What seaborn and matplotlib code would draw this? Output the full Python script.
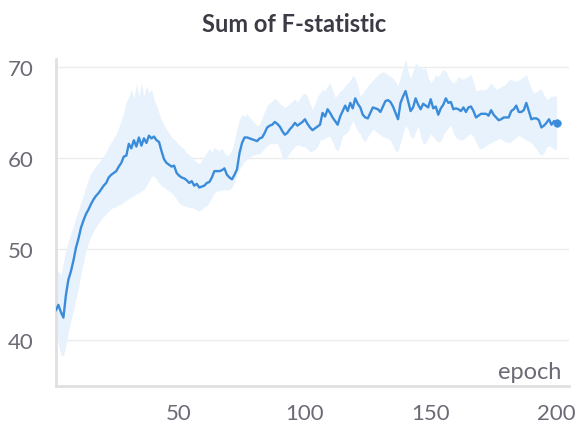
import numpy as np
import pandas as pd
import matplotlib
matplotlib.use("Agg")
import matplotlib.pyplot as plt
import seaborn as sns

# values
epoch = list(range(1, 201))

mean_f = [
    43.3, 43.9, 43.1, 42.5, 45.0, 46.7, 47.6, 48.8, 50.2, 51.2,
    52.4, 53.2, 53.9, 54.4, 55.0, 55.5, 55.9, 56.2, 56.6, 57.0,
    57.3, 57.9, 58.2, 58.4, 58.6, 59.1, 59.5, 60.2, 60.3, 61.6,
    61.1, 62.0, 61.3, 62.3, 61.4, 62.2, 61.7, 62.5, 62.2, 62.4,
    62.0, 61.8, 60.8, 59.9, 59.5, 59.3, 59.1, 59.2, 58.4, 58.1,
    57.9, 57.8, 57.6, 57.3, 57.5, 57.0, 57.2, 56.8, 56.9, 57.0,
    57.3, 57.4, 57.9, 58.6, 58.6, 58.6, 58.7, 58.9, 58.2, 57.9,
    57.7, 58.2, 58.8, 60.6, 61.7, 62.3, 62.3, 62.2, 62.1, 62.0,
    61.9, 62.2, 62.3, 62.8, 63.4, 63.6, 63.7, 64.0, 63.8, 63.5,
    63.0, 62.6, 62.8, 63.2, 63.5, 63.9, 63.6, 63.8, 64.0, 64.3,
    63.8, 63.4, 63.1, 63.3, 63.5, 63.7, 65.0, 64.6, 65.4, 65.0,
    64.5, 64.1, 63.7, 64.6, 65.2, 65.8, 65.2, 66.1, 65.5, 66.6,
    66.0, 65.6, 64.8, 64.5, 64.4, 65.0, 65.6, 65.5, 65.4, 65.1,
    65.7, 66.3, 66.4, 66.2, 65.7, 65.0, 64.3, 66.1, 66.8, 67.4,
    66.3, 65.2, 65.6, 66.6, 65.9, 65.4, 66.0, 65.8, 65.6, 66.5,
    65.5, 65.7, 64.8, 65.5, 65.9, 66.6, 66.1, 66.2, 65.4, 65.5,
    65.4, 65.2, 65.6, 65.1, 65.6, 65.7, 65.2, 64.5, 64.7, 64.9,
    64.9, 64.9, 64.7, 65.3, 64.8, 64.5, 64.2, 64.3, 64.5, 64.5,
    64.5, 65.2, 65.4, 65.8, 65.1, 65.1, 65.3, 66.1, 65.2, 64.3,
    64.4, 64.4, 64.2, 63.4, 63.6, 63.9, 64.3, 63.7, 64.1, 63.9,
]

upper_f = [
    47.4, 47.6, 47.2, 48.6, 50.0, 50.9, 51.8, 52.6, 53.5, 54.3,
    55.2, 56.0, 56.9, 57.7, 58.4, 58.8, 59.2, 59.5, 59.9, 60.3,
    60.7, 61.3, 61.8, 62.3, 62.7, 63.4, 64.2, 65.0, 66.2, 66.8,
    67.6, 66.6, 68.2, 66.8, 68.3, 66.9, 68.0, 67.2, 67.6, 66.5,
    65.8, 65.0, 64.2, 63.6, 63.2, 62.8, 62.3, 62.1, 61.8, 61.5,
    61.2, 61.0, 60.6, 60.4, 60.1, 59.8, 59.6, 59.4, 59.8, 60.3,
    60.6, 61.1, 60.7, 61.2, 61.0, 60.8, 61.1, 60.6, 60.3, 60.5,
    61.0, 62.0, 63.3, 64.3, 64.8, 64.6, 64.9, 64.5, 64.2, 63.9,
    63.6, 63.8, 64.5, 65.2, 65.8, 66.1, 66.3, 66.6, 66.4, 66.0,
    65.8, 65.6, 65.8, 66.0, 66.3, 66.5, 66.2, 66.6, 67.0, 67.2,
    66.8, 66.0, 65.4, 66.0, 66.8, 67.2, 67.6, 67.4, 68.0, 68.3,
    67.5, 66.7, 67.0, 67.4, 67.6, 68.0, 68.3, 68.6, 69.1, 68.8,
    68.0, 66.8, 67.2, 67.6, 68.0, 68.3, 68.6, 68.9, 69.2, 69.4,
    69.5, 69.4, 69.2, 69.0, 68.8, 68.4, 68.0, 69.0, 70.0, 70.9,
    69.6, 68.8, 69.6, 70.5, 70.2, 70.0, 69.8, 70.0, 68.8, 68.3,
    68.7, 69.2, 69.0, 69.4, 69.8, 69.6, 69.0, 68.5, 68.3, 68.5,
    69.0, 68.8, 68.7, 68.9, 69.0, 69.2, 68.4, 67.4, 67.5, 67.6,
    67.5, 67.6, 67.9, 68.3, 67.9, 67.6, 67.7, 67.9, 68.0, 68.2,
    68.6, 68.7, 68.5, 68.5, 68.6, 68.8, 69.0, 69.2, 68.4, 67.6,
    67.2, 67.3, 67.5, 67.6, 67.0, 66.5, 66.6, 66.9, 66.8, 66.9,
]

lower_f = [
    41.5, 39.5, 38.4, 38.3, 39.5, 41.0, 42.2, 43.3, 44.6, 45.8,
    47.4, 48.6, 49.9, 50.8, 51.5, 52.0, 52.5, 52.9, 53.3, 53.6,
    53.9, 54.2, 54.5, 54.6, 54.7, 54.9, 55.0, 55.2, 55.4, 55.6,
    55.7, 55.9, 56.1, 56.2, 56.4, 56.6, 57.0, 57.5, 58.0, 58.1,
    57.7, 57.3, 57.0, 56.8, 56.6, 56.4, 56.2, 55.9, 55.5, 55.1,
    54.9, 54.8, 54.7, 54.6, 54.6, 54.5, 54.3, 54.2, 54.4, 54.7,
    54.8, 55.2, 55.7, 56.2, 56.4, 56.5, 56.5, 56.6, 56.5, 56.6,
    56.8, 57.4, 58.2, 58.8, 59.3, 59.7, 59.9, 60.1, 60.3, 60.4,
    60.5, 60.5, 60.8, 61.1, 61.4, 61.6, 61.6, 61.6, 61.7, 61.0,
    60.0, 59.8, 60.2, 60.6, 61.0, 61.3, 61.5, 61.4, 61.3, 61.3,
    61.0, 60.7, 60.8, 61.0, 61.3, 62.0, 62.1, 62.2, 62.4, 62.4,
    61.8, 61.1, 60.8, 61.5, 62.5, 62.7, 62.9, 63.5, 64.2, 63.6,
    63.0, 62.7, 62.0, 61.9, 62.4, 62.8, 63.2, 63.0, 62.8, 62.6,
    62.4, 62.3, 62.2, 62.0, 61.4, 60.8, 60.8, 61.8, 62.8, 63.6,
    63.2, 62.4, 62.2, 62.9, 63.6, 62.4, 61.6, 61.7, 62.2, 62.7,
    62.4, 62.0, 61.8, 61.9, 62.6, 63.0, 63.4, 63.6, 62.8, 62.3,
    62.1, 62.0, 62.1, 62.3, 62.6, 62.7, 62.4, 61.8, 61.2, 61.0,
    61.2, 61.4, 61.6, 61.7, 61.9, 62.0, 62.2, 62.1, 61.9, 61.8,
    61.7, 61.9, 62.1, 62.3, 62.5, 62.4, 62.2, 62.0, 61.9, 61.7,
    61.4, 61.0, 60.6, 60.3, 60.6, 61.2, 61.4, 61.2, 61.0, 61.0,
]

x_ticks = [50, 100, 150, 200]
y_ticks = [40, 50, 60, 70]

df = pd.DataFrame({'epoch': epoch, 'mean': mean_f, 'lower': lower_f, 'upper': upper_f})

sns.set_theme(style="white")
plt.rcParams['font.family'] = ['Lato', 'DejaVu Sans']

line_color = '#3a8cdb'
band_color = '#e8f2fc'
text_color = '#6b6b76'

fig = plt.figure(figsize=(5.76, 4.27), dpi=100)
ax = fig.add_axes([0.097, 0.094, 0.891, 0.765])

ax.fill_between(df['epoch'], df['lower'], df['upper'], color=band_color, linewidth=0, zorder=1)
sns.lineplot(data=df, x='epoch', y='mean', color=line_color, linewidth=1.7, ax=ax, zorder=3)
last = df.iloc[[-1]]
sns.scatterplot(data=last, x='epoch', y='mean', color=line_color, s=30, edgecolor=line_color, ax=ax, zorder=4)

ax.set_xlim(1, 205)
ax.set_ylim(35, 70.9)
ax.set_xticks(x_ticks)
ax.set_yticks(y_ticks)
ax.grid(axis='y', color='#ececec', linewidth=1)
ax.set_axisbelow(True)

for side in ['top', 'right']:
    ax.spines[side].set_visible(False)
for side in ['left', 'bottom']:
    ax.spines[side].set_color('#e0e0e0')
    ax.spines[side].set_linewidth(2)

ax.tick_params(axis='x', direction='inout', length=14, width=1, color='#e0e0e0',
               labelsize=16, labelcolor=text_color, pad=5)
ax.tick_params(axis='y', direction='out', length=7, width=1, color='#e0e0e0',
               labelsize=16, labelcolor=text_color, pad=9)
ax.set_xlabel('')
ax.set_ylabel('')

ax.text(0.984, 0.012, 'epoch', transform=ax.transAxes, ha='right', va='bottom',
        fontsize=17, color=text_color)
fig.suptitle('Sum of F-statistic', x=0.51, y=0.97, fontsize=17, fontweight='bold', color='#3b3b45')

plt.savefig('out.png', dpi=100)
plt.close()
